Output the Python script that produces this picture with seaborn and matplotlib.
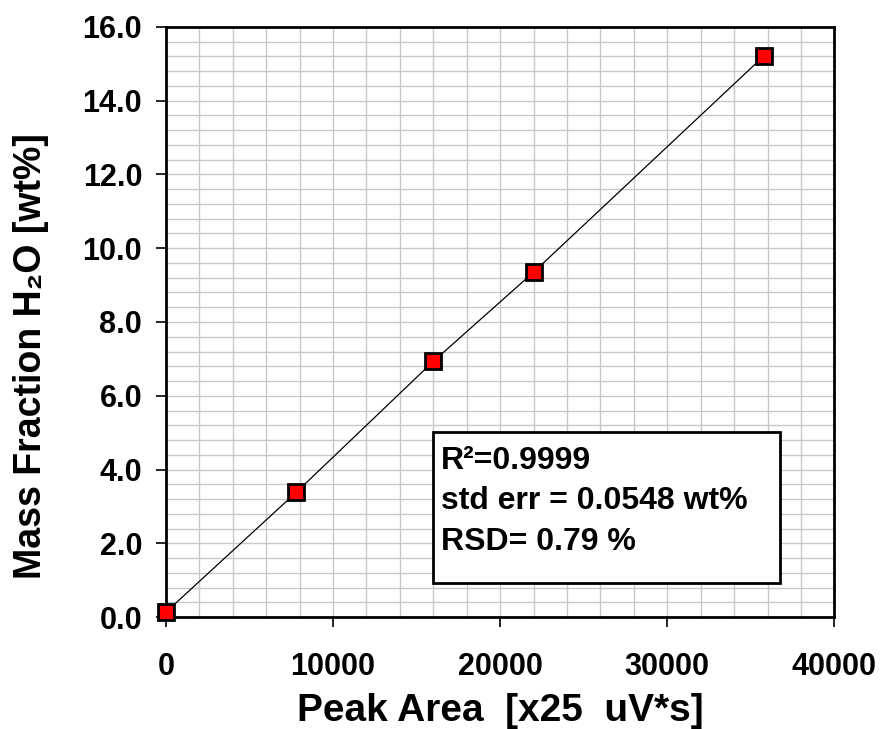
import pandas as pd
import matplotlib
matplotlib.use("Agg")
import matplotlib.pyplot as plt
import seaborn as sns
from matplotlib.ticker import MultipleLocator, FormatStrFormatter

# calibration points
peak_area = [0, 7800, 16000, 22000, 35800]
mass_fraction = [0.13, 3.38, 6.93, 9.35, 15.22]
stats_lines = ["R\u00b2=0.9999", "std err = 0.0548 wt%", "RSD= 0.79 %"]

df = pd.DataFrame({"area": peak_area, "wt": mass_fraction})

sns.set_style("white")
plt.rcParams["font.family"] = ["Liberation Sans", "DejaVu Sans"]
plt.rcParams["font.weight"] = "bold"
plt.rcParams["text.color"] = "black"

fig = plt.figure(figsize=(8.82, 7.29), dpi=100)
ax = fig.add_axes([0.188, 0.1536, 0.758, 0.8094])

sns.lineplot(data=df, x="area", y="wt", ax=ax, color="black", linewidth=0.9,
             marker="s", markersize=11, markerfacecolor="#ff0000",
             markeredgecolor="black", markeredgewidth=2, zorder=5, clip_on=False)

ax.set_xlim(0, 40000)
ax.set_ylim(0, 16)
ax.xaxis.set_major_locator(MultipleLocator(10000))
ax.xaxis.set_minor_locator(MultipleLocator(2000))
ax.yaxis.set_major_locator(MultipleLocator(2))
ax.yaxis.set_minor_locator(MultipleLocator(0.4))
ax.yaxis.set_major_formatter(FormatStrFormatter("%.1f"))

ax.grid(which="both", color="#c8c8c8", linewidth=1)
ax.set_axisbelow(True)
ax.tick_params(which="major", direction="out", length=7, width=1.2,
               labelsize=22, bottom=True, left=True, colors="black",
               labelcolor="black")
ax.tick_params(axis="y", pad=10)
ax.tick_params(axis="x", pad=18)
ax.tick_params(which="minor", length=0)
for s in ax.spines.values():
    s.set_color("black")
    s.set_linewidth(2)

ax.set_xlabel("Peak Area  [x25  uV*s]", fontsize=28, fontweight="bold",
              labelpad=8, color="black")
ax.set_ylabel("Mass Fraction H\u2082O [wt%]", fontsize=27, fontweight="bold",
              labelpad=24, color="black")
ax.yaxis.label.set_y(0.442)

ax.text(0.412, 0.29, "\n".join(stats_lines), transform=ax.transAxes,
        fontsize=23, fontweight="bold", va="top", ha="left", linespacing=1.45,
        color="black", zorder=6)
box = plt.Rectangle((0.399, 0.058), 0.519, 0.256, transform=ax.transAxes,
                    facecolor="white", edgecolor="black", linewidth=2, zorder=4)
ax.add_patch(box)

fig.savefig("out.png", dpi=100)
